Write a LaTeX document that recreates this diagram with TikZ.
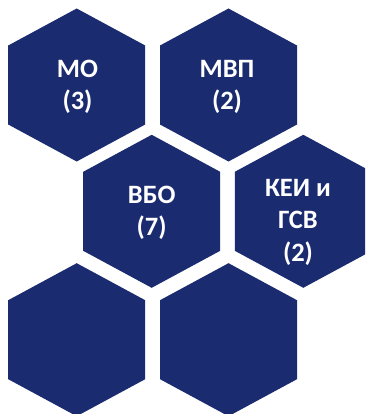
\documentclass[tikz,border=0pt]{standalone}
\usepackage{fontspec}
\setmainfont{Carlito}[BoldFont={Carlito Bold}]
\usepackage{tikz}
\usetikzlibrary{positioning}
\definecolor{HexNavy}{HTML}{1B2B6F}

\begin{document}
\begin{tikzpicture}[x=1pt,y=-1pt,line join=miter,
    hexcell/.style={fill=HexNavy},
    hexlabel/.style={text=white,font=\fontsize{26.5}{32.5}\selectfont\bfseries,
      align=center,inner sep=0pt}]
  \path[use as bounding box] (0,0) rectangle (368,414);

  % Half width, half side and tip height of one cell.
  \def\HexW{68.5}
  \def\HexS{39.5}
  \def\HexT{76.5}

  \begin{scope}
    \clip (0,0) rectangle (365,414);
    % Honeycomb: two cells per row, middle row shifted by half a step.
    \foreach \cx/\cy in {76.7/85,228.5/85,151.7/211.3,303.3/211.3,
                         76.7/339.7,228.5/339.7} {
      \fill[hexcell] (\cx,\cy-\HexT) -- (\cx+\HexW,\cy-\HexS)
        -- (\cx+\HexW,\cy+\HexS) -- (\cx,\cy+\HexT)
        -- (\cx-\HexW,\cy+\HexS) -- (\cx-\HexW,\cy-\HexS) -- cycle;
    }
  \end{scope}

  % Labels of the filled cells; the two lower cells stay empty.
  \node[hexlabel] (mo)  at (77.5,87)   {МО\\(3)};
  \node[hexlabel] (mvp) at (227,87)    {МВП\\(2)};
  \node[hexlabel] (vbo) at (151.7,213) {ВБО\\(7)};
  \node[hexlabel] (kei) at (298,222)   {КЕИ и\\ГСВ\\(2)};
\end{tikzpicture}
\end{document}
